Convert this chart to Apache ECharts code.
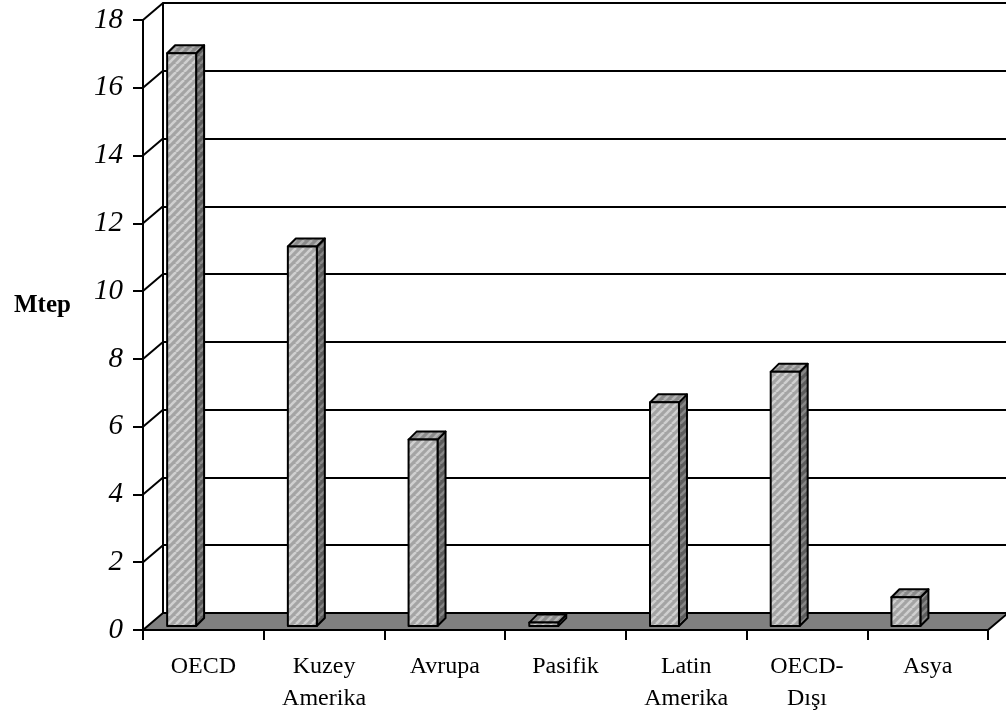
<!DOCTYPE html>
<html>
<head>
<meta charset="utf-8">
<script src="https://cdn.jsdelivr.net/npm/echarts@6/dist/echarts.min.js"></script>
<style>
  html, body { margin: 0; padding: 0; background: #fff; }
  #chart { width: 1006px; height: 717px; }
</style>
</head>
<body>
<div id="chart"></div>
<script>
// Regional figures (Mtep)
const categories = ['OECD', 'Kuzey\nAmerika', 'Avrupa', 'Pasifik', 'Latin\nAmerika', 'OECD-\nDışı', 'Asya'];
const values = [16.9, 11.2, 5.5, 0.1, 6.6, 7.5, 0.85];
const yTicks = { min: 0, max: 18, interval: 2 };
const unitLabel = 'Mtep';

// Oblique depth of the 3D walls (px) and of each box
const WALL_DX = 20, WALL_DY = -17;
const BOX_DX = 8, BOX_DY = -8;

function stripes(base, light, size) {
  const c = document.createElement('canvas');
  c.width = c.height = size;
  const g = c.getContext('2d');
  g.fillStyle = base;
  g.fillRect(0, 0, size, size);
  g.strokeStyle = light;
  g.lineWidth = size * 0.32;
  for (let k = -1; k <= 1; k++) {
    g.beginPath();
    g.moveTo(k * size, size);
    g.lineTo(k * size + size, 0);
    g.stroke();
  }
  return { image: c, repeat: 'repeat' };
}
const frontFill = stripes('#a4a4a4', '#d0d0d0', 8);
const sideFill = stripes('#5c5c5c', '#868686', 8);
const topFill = stripes('#8a8a8a', '#b2b2b2', 8);

const chart = echarts.init(document.getElementById('chart'));

// Floor slab and diagonal side-wall gridlines
function renderFloor(params, api) {
  const cs = params.coordSys;
  const x0 = cs.x, x1 = cs.x + cs.width, yb = cs.y + cs.height;
  const children = [];
  for (let v = yTicks.min + yTicks.interval; v <= yTicks.max; v += yTicks.interval) {
    const p = api.coord([0, v]);
    children.push({
      type: 'line',
      shape: { x1: x0, y1: p[1], x2: x0 + WALL_DX, y2: p[1] + WALL_DY },
      style: { stroke: '#000', lineWidth: 2 }
    });
  }
  children.push({
    type: 'polygon',
    shape: { points: [[x0, yb], [x0 + WALL_DX, yb + WALL_DY], [x1 + WALL_DX, yb + WALL_DY], [x1, yb]] },
    style: { fill: '#808080', stroke: '#000', lineWidth: 2, lineJoin: 'round' }
  });
  return { type: 'group', children };
}

// 3D box per category
function renderBox(params, api) {
  const idx = api.value(0);
  const base = api.coord([idx, 0]);
  const top = api.coord([idx, api.value(1)]);
  const band = api.size([1, 0])[0];
  const xl = base[0] - 0.30 * band;
  const w = 0.24 * band;
  const yb = base[1] - 4;
  const yt = top[1] - 4;
  const stroke = { stroke: '#000', lineWidth: 2, lineJoin: 'round' };
  return {
    type: 'group',
    children: [
      { type: 'polygon', shape: { points: [[xl + w, yt], [xl + w + BOX_DX, yt + BOX_DY], [xl + w + BOX_DX, yb + BOX_DY], [xl + w, yb]] },
        style: Object.assign({ fill: sideFill }, stroke) },
      { type: 'polygon', shape: { points: [[xl, yt], [xl + BOX_DX, yt + BOX_DY], [xl + w + BOX_DX, yt + BOX_DY], [xl + w, yt]] },
        style: Object.assign({ fill: topFill }, stroke) },
      { type: 'rect', shape: { x: xl, y: yt, width: w, height: yb - yt },
        style: Object.assign({ fill: frontFill }, stroke) }
    ]
  };
}

const serif = "'Liberation Serif', 'Times New Roman', serif";

chart.setOption({
  animation: false,
  title: {
    text: unitLabel, left: 9, top: 288,
    textStyle: { fontFamily: serif, fontWeight: 'bold', fontSize: 25, color: '#000' }
  },
  grid: [
    { left: 143, right: 18, top: 20, bottom: 87 },
    { left: 143 + WALL_DX, right: 18 - WALL_DX, top: 20 + WALL_DY, bottom: 87 - WALL_DY }
  ],
  xAxis: [
    {
      gridIndex: 0, type: 'category', data: categories,
      axisLine: { show: true, lineStyle: { color: '#000', width: 2 } },
      axisTick: { show: true, length: 10, lineStyle: { color: '#000', width: 2 } },
      axisLabel: { color: '#000', fontFamily: serif, fontSize: 24, lineHeight: 32, margin: 21, interval: 0 }
    },
    { gridIndex: 1, type: 'category', data: categories, show: false }
  ],
  yAxis: [
    {
      gridIndex: 0, type: 'value', min: yTicks.min, max: yTicks.max, interval: yTicks.interval,
      axisLine: { show: true, lineStyle: { color: '#000', width: 2 } },
      axisTick: { show: true, length: 10, lineStyle: { color: '#000', width: 2 } },
      axisLabel: { color: '#000', fontFamily: serif, fontStyle: 'italic', fontSize: 29, margin: 20 },
      splitLine: { show: false }
    },
    {
      gridIndex: 1, type: 'value', min: yTicks.min, max: yTicks.max, interval: yTicks.interval,
      axisLine: { show: true, lineStyle: { color: '#000', width: 2 } },
      axisTick: { show: false },
      axisLabel: { show: false },
      splitLine: { show: true, lineStyle: { color: '#000', width: 2 } }
    }
  ],
  series: [
    {
      type: 'custom', xAxisIndex: 0, yAxisIndex: 0, z: 1, silent: true,
      renderItem: renderFloor, data: [[0, 0]]
    },
    {
      type: 'custom', xAxisIndex: 0, yAxisIndex: 0, z: 3, silent: true,
      renderItem: renderBox,
      encode: { x: 0, y: 1 },
      data: values.map((v, i) => [i, v])
    }
  ]
});
</script>
</body>
</html>
